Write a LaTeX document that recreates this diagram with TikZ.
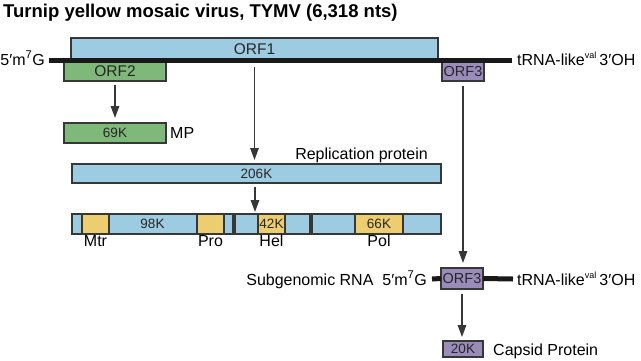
\documentclass[tikz,border=0pt]{standalone}
\usepackage{fontspec}
\setmainfont{Liberation Sans}
\usetikzlibrary{arrows.meta}
\definecolor{orfblue}{RGB}{157,204,226}
\definecolor{orfgreen}{RGB}{126,185,122}
\definecolor{orfpurple}{RGB}{154,140,186}
\definecolor{domyellow}{RGB}{236,206,112}
\definecolor{edgegray}{RGB}{55,55,55}
\begin{document}
\begin{tikzpicture}[x=1pt,y=-1pt,
  box/.style={draw=edgegray, line width=1.1pt, inner sep=0pt, outer sep=0pt, anchor=north west, text=black!85},
  lbl/.style={font=\fontsize{16}{18}\selectfont, inner sep=1pt},
  orflbl/.style={font=\fontsize{15.5}{18}\selectfont},
  small/.style={font=\fontsize{13.5}{15}\selectfont},
  rna/.style={line width=5pt, black!90},
  arr/.style={draw=edgegray, line width=1.4pt, -{Triangle[width=8.5pt,length=12pt]}},
]
\useasboundingbox (0,0) rectangle (641,360);

% title
\node[anchor=base west, inner sep=0pt, font=\fontsize{18.5}{21}\selectfont\bfseries] (title) at (3,17) {Turnip yellow mosaic virus, TYMV (6,318 nts)};

% genome
\node[box, fill=orfblue, minimum width=367pt, minimum height=22pt, orflbl] (orf1) at (71,38) {ORF1};
\node[box, fill=orfgreen, minimum width=102pt, minimum height=19pt, orflbl] (orf2) at (64,62) {ORF2};
\node[box, fill=orfpurple, minimum width=42pt, minimum height=19pt, font=\fontsize{14.5}{16}\selectfont] (orf3) at (442,62) {ORF3};
\coordinate (g5) at (49,60.5);
\coordinate (g3) at (512,60.5);
\draw[rna] (g5) -- (g3);
\node[lbl, anchor=base east] (five) at (46,65) {5′m\textsuperscript{7}G};
\node[lbl, anchor=base west] (three) at (516,65) {tRNA-like\textsuperscript{\fontsize{9}{10}\selectfont val}\,3′OH};

% MP
\node[box, fill=orfgreen, minimum width=102pt, minimum height=20pt, small] (mp) at (64,123) {69K};
\node[lbl, anchor=west] (mplbl) at ([xshift=3pt]mp.east) {MP};
\draw[arr, shorten <=4pt, shorten >=5pt] (orf2.south) -- (mp.north);

% replication protein
\node[box, fill=orfblue, minimum width=369pt, minimum height=19pt, small] (rep) at (72,164) {206K};
\node[lbl, anchor=south east] (replbl) at ([xshift=-12pt]rep.north east) {Replication protein};
\draw[arr, shorten <=7pt, shorten >=4pt] (orf1.south) -- (orf1.south |- rep.north);

% cleavage products
\node[box, fill=orfblue, minimum width=161pt, minimum height=20pt, small] (seg1) at (72,214) {98K};
\node[box, fill=domyellow, minimum width=27pt, minimum height=20pt] (mtr) at (82,214) {};
\node[box, fill=domyellow, minimum width=27pt, minimum height=20pt] (pro) at (197,214) {};
\node[box, fill=orfblue, minimum width=75pt, minimum height=20pt] (seg2) at (235,214) {};
\node[box, fill=domyellow, minimum width=27pt, minimum height=20pt, small] (hel) at (258,214) {42K};
\node[box, fill=orfblue, minimum width=129pt, minimum height=20pt] (seg3) at (312,214) {};
\node[box, fill=domyellow, minimum width=48pt, minimum height=20pt, small] (pol) at (355,214) {66K};
\node[lbl, anchor=north] (mtrlbl) at (mtr.south) {Mtr};
\node[lbl, anchor=north] (prolbl) at (pro.south) {Pro};
\node[lbl, anchor=north] (hellbl) at (hel.south) {Hel};
\node[lbl, anchor=north] (pollbl) at (pol.south) {Pol};
\draw[arr, shorten <=4pt, shorten >=2pt] ([xshift=-1.5pt]rep.south) -- ([xshift=-1.5pt]rep.south |- seg2.north);

% subgenomic RNA
\node[box, fill=orfpurple, minimum width=42pt, minimum height=21pt, font=\fontsize{14.5}{16}\selectfont] (sorf3) at (441,268) {ORF3};
\coordinate (s5) at (432,279);
\coordinate (s3) at (513,279);
\draw[rna] (s5) -- (sorf3.west);
\draw[rna] (sorf3.east) -- (s3);
\node[lbl, anchor=base east] (sublbl) at (428,285) {Subgenomic RNA\ \ 5′m\textsuperscript{7}G};
\node[lbl, anchor=base west] (sthree) at (516,285) {tRNA-like\textsuperscript{\fontsize{9}{10}\selectfont val}\,3′OH};
\draw[arr, shorten <=5pt, shorten >=5pt] (orf3.south) -- (orf3.south |- sorf3.north);

% capsid
\node[box, fill=orfpurple, minimum width=40pt, minimum height=16pt, small] (cp) at (443,341) {20K};
\node[lbl, anchor=base west] (cplbl) at (492,355) {Capsid Protein};
\draw[arr, shorten <=5pt, shorten >=4pt] (sorf3.south) -- (sorf3.south |- cp.north);
\end{tikzpicture}
\end{document}
